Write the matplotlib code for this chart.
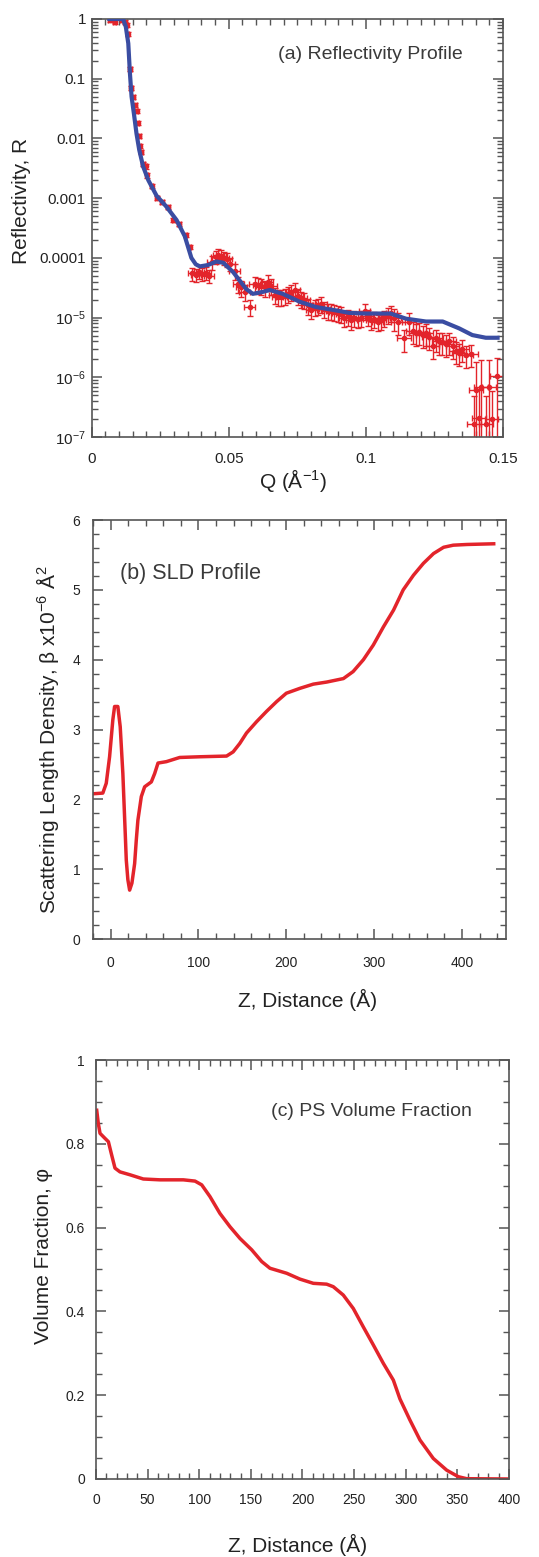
import matplotlib
matplotlib.use("Agg")
import matplotlib.pyplot as plt
from matplotlib.ticker import FixedLocator, FixedFormatter, MultipleLocator, LogLocator, NullFormatter
import numpy as np

plt.rcParams['font.family'] = ['Liberation Sans', 'DejaVu Sans']
plt.rcParams['mathtext.default'] = 'regular'

# (a) reflectivity data: Q, R
q = [0.0067, 0.0085, 0.0110, 0.0122, 0.0128, 0.0132, 0.0140, 0.0144, 0.0152, 0.0158,
     0.0164, 0.0168, 0.0174, 0.0176, 0.0182, 0.0188, 0.0197, 0.0201, 0.0219, 0.0239,
     0.0257, 0.0279, 0.0298, 0.0319, 0.0343, 0.0358,
     0.0368, 0.0380, 0.0392, 0.0404, 0.0416, 0.0428,
     0.0440, 0.0452, 0.0462, 0.0472, 0.0482, 0.0494, 0.0505,
     0.0522, 0.0534, 0.0546, 0.0558, 0.0576, 0.0595, 0.0607, 0.0619, 0.0631, 0.0643,
     0.0655, 0.0667, 0.0679, 0.0692, 0.0704, 0.0716, 0.0728, 0.0740, 0.0752, 0.0764,
     0.0776, 0.0788, 0.0801, 0.0813, 0.0825, 0.0837, 0.0849, 0.0861, 0.0873, 0.0885,
     0.0897, 0.0910, 0.0922, 0.0934, 0.0946, 0.0958, 0.0970, 0.0983, 0.0995, 0.1007,
     0.1019, 0.1031, 0.1043, 0.1055, 0.1067, 0.1079, 0.1092, 0.1104, 0.1116, 0.1140,
     0.1158, 0.1170, 0.1182, 0.1195, 0.1207, 0.1219, 0.1231, 0.1243, 0.1255, 0.1267,
     0.1279, 0.1291, 0.1303, 0.1316, 0.1328, 0.1340, 0.1352, 0.1364, 0.1383,
     0.1401, 0.1419, 0.1395, 0.1413, 0.1439, 0.1449, 0.1458, 0.1477]
r = [0.96, 0.90, 0.97, 0.90, 0.80, 0.56, 0.145, 0.070, 0.050, 0.037,
     0.029, 0.018, 0.011, 0.0076, 0.0059, 0.0037, 0.0034, 0.0024, 0.0016, 0.0010,
     0.00087, 0.00072, 0.00043, 0.00037, 0.00024, 0.000155,
     5.5e-5, 5.2e-5, 5.8e-5, 5.4e-5, 5.6e-5, 5.0e-5,
     8.5e-5, 1.05e-4, 1.12e-4, 1.08e-4, 1.0e-4, 9.5e-5, 8.0e-5,
     6.0e-5, 3.7e-5, 3.2e-5, 2.7e-5, 1.5e-5, 3.7e-5, 3.5e-5, 3.4e-5, 3.2e-5, 4.0e-5,
     3.4e-5, 2.4e-5, 2.2e-5, 2.2e-5, 2.3e-5, 2.5e-5, 2.7e-5, 2.9e-5, 2.3e-5, 2.1e-5,
     2.0e-5, 1.6e-5, 1.35e-5, 1.5e-5, 1.6e-5, 1.7e-5, 1.4e-5, 1.3e-5, 1.3e-5, 1.25e-5,
     1.2e-5, 1.15e-5, 1.0e-5, 1.05e-5, 9.0e-6, 1.0e-5, 9.5e-6, 1.0e-5, 1.3e-5, 1.05e-5,
     9.0e-6, 9.5e-6, 8.5e-6, 9.0e-6, 1.0e-5, 1.1e-5, 1.2e-5, 1.0e-5, 8.5e-6, 4.5e-6,
     8.5e-6, 6.0e-6, 5.5e-6, 5.8e-6, 5.2e-6, 5.5e-6, 4.8e-6, 3.4e-6, 4.5e-6, 4.0e-6,
     3.9e-6, 3.6e-6, 4.0e-6, 3.4e-6, 2.8e-6, 2.6e-6, 3.0e-6, 2.4e-6, 2.5e-6,
     6.1e-7, 7.0e-7, 1.65e-7, 2.1e-7, 1.65e-7, 7.0e-7, 2.0e-7, 1.05e-6]
# error bar sizes by Q range (dQ, fractional dR), tail points listed separately
err_edges = [0.036, 0.051, 0.11, 1.0]
err_dq = [0.0006, 0.0018, 0.002, 0.0025]
err_rel = [0.08, 0.25, 0.3, 0.4]
tail_rel = [2.0, 1.8, 2.0, 2.0, 2.0, 1.8, 2.0, 1.0]

# (a) fitted reflectivity curve
fit_q = [0.0065, 0.0115, 0.0125, 0.0134, 0.0140, 0.0146, 0.0155, 0.0164, 0.0174, 0.0188,
         0.0207, 0.0237, 0.0273, 0.0310, 0.0340, 0.0364, 0.0380, 0.0395, 0.0425, 0.0455,
         0.0480, 0.0516, 0.0564, 0.0588, 0.0625, 0.0650, 0.0697, 0.0758, 0.0819, 0.0879,
         0.0940, 0.1000, 0.1090, 0.1146, 0.1219, 0.1280, 0.1340, 0.1388, 0.1437, 0.1480]
fit_r = [1.0, 1.0, 0.74, 0.39, 0.123, 0.05, 0.025, 0.012, 0.0064, 0.0034,
         0.002, 0.0011, 0.00072, 0.00043, 0.00023, 0.0001, 7.8e-5, 7.2e-5, 7.6e-5, 8.7e-5,
         8.3e-5, 5.8e-5, 3.0e-5, 2.5e-5, 2.7e-5, 2.9e-5, 2.5e-5, 1.85e-5, 1.5e-5, 1.35e-5,
         1.2e-5, 1.17e-5, 1.17e-5, 9.6e-6, 8.6e-6, 8.6e-6, 6.6e-6, 5.1e-6, 4.6e-6, 4.6e-6]

# (b) SLD profile
z_sld = [-20, -8.8, -4.9, -1.1, 2.6, 4.6, 8.3, 11, 14, 17, 17.9, 19.7, 21.7, 24.3, 27.4,
         29.3, 31.1, 35, 38.8, 46.4, 50.2, 54, 63.5, 78.7, 101.5, 132, 139.5, 147, 154.7,
         166, 177.5, 189, 200, 215.5, 230.7, 246, 265, 276, 287.7, 299, 310.5, 322, 333,
         344.7, 356, 367.5, 379, 390, 405.6, 436]
sld = [2.08, 2.09, 2.23, 2.61, 3.14, 3.33, 3.33, 3.04, 2.37, 1.42, 1.13, 0.85, 0.70, 0.80,
       1.08, 1.42, 1.70, 2.04, 2.18, 2.25, 2.37, 2.52, 2.54, 2.60, 2.61, 2.62, 2.68, 2.80,
       2.95, 3.11, 3.26, 3.40, 3.52, 3.59, 3.65, 3.68, 3.73, 3.83, 4.00, 4.21, 4.47, 4.71,
       5.00, 5.21, 5.38, 5.52, 5.61, 5.64, 5.65, 5.66]

# (c) PS volume fraction
z_phi = [0.7, 2.2, 3.9, 8.7, 12, 15.2, 18.4, 23.2, 33, 45.8, 62, 84.6, 95.9, 102.4, 110.4,
         120, 129.8, 139.5, 150.8, 160.5, 168.5, 184.7, 197.6, 210.5, 223.4, 229.8, 239.5,
         249.2, 258.9, 268.6, 278.3, 288, 294.4, 304, 313.8, 326.7, 339.7, 350.9, 359, 399.3]
phi = [0.88, 0.849, 0.825, 0.813, 0.805, 0.773, 0.742, 0.733, 0.726, 0.716, 0.714, 0.714,
       0.711, 0.702, 0.674, 0.634, 0.602, 0.574, 0.547, 0.519, 0.503, 0.491, 0.477, 0.467,
       0.465, 0.459, 0.439, 0.407, 0.363, 0.320, 0.276, 0.236, 0.191, 0.141, 0.093, 0.049,
       0.021, 0.0055, 0.0007, 0.0]

red = '#e3242b'
blue = '#3a4da2'
axcol = '#555555'
txtcol = '#222222'

fig = plt.figure(figsize=(5.39, 15.57), dpi=100)
ax1 = fig.add_axes([0.1698, 0.7193, 0.7635, 0.2685])
ax2 = fig.add_axes([0.1725, 0.3969, 0.7663, 0.2691])
ax3 = fig.add_axes([0.1781, 0.0501, 0.7662, 0.2691])


def style(ax, size=10):
    for s in ax.spines.values():
        s.set_color(axcol)
        s.set_linewidth(1.2)
    ax.tick_params(which='both', direction='in', top=True, right=True, color=axcol,
                   labelcolor=txtcol, labelsize=size)
    ax.tick_params(which='major', length=7, width=1.1)
    ax.tick_params(which='minor', length=4, width=1.0)


# (a) Reflectivity
q = np.array(q)
r = np.array(r)
bin_idx = np.searchsorted(err_edges, q)
dq = np.array(err_dq)[bin_idx]
rel = np.array(err_rel)[bin_idx]
rel[-len(tail_rel):] = tail_rel
err = rel * r
ax1.errorbar(q, r, xerr=dq, yerr=err, fmt='o', ms=3, color=red, ecolor=red,
             elinewidth=1.0, capsize=2, capthick=1.0, zorder=2)
ax1.plot(fit_q, fit_r, color=blue, lw=3, zorder=3)
ax1.set_yscale('log')
ax1.set_xlim(0, 0.15)
ax1.set_ylim(1e-7, 1)
style(ax1, 11)
ax1.xaxis.set_major_locator(FixedLocator([0, 0.05, 0.1, 0.15]))
ax1.xaxis.set_major_formatter(FixedFormatter(['0', '0.05', '0.1', '0.15']))
ax1.xaxis.set_minor_locator(MultipleLocator(0.005))
ax1.yaxis.set_major_locator(FixedLocator([1, 0.1, 0.01, 0.001, 1e-4, 1e-5, 1e-6, 1e-7]))
ax1.yaxis.set_major_formatter(FixedFormatter(['1', '0.1', '0.01', '0.001', '0.0001',
                                              '$10^{-5}$', '$10^{-6}$', '$10^{-7}$']))
ax1.yaxis.set_minor_locator(LogLocator(base=10, subs=np.arange(2, 10), numticks=20))
ax1.yaxis.set_minor_formatter(NullFormatter())
ax1.tick_params(axis='x', pad=11)
ax1.tick_params(axis='y', pad=4)
ax1.set_ylabel('Reflectivity, R', fontsize=15, color=txtcol)
ax1.set_xlabel('Q (Å$^{-1}$)', fontsize=15, color=txtcol)
ax1.yaxis.set_label_coords(-0.169, 0.565)
ax1.xaxis.set_label_coords(0.49, -0.103)
ax1.yaxis.label.set_va('center')
ax1.xaxis.label.set_va('center')
ax1.text(0.903, 0.914, '(a) Reflectivity Profile', transform=ax1.transAxes,
         ha='right', va='center', fontsize=14, color='#3a3a3a')

# (b) SLD profile
ax2.plot(z_sld, sld, color=red, lw=2.5)
ax2.set_xlim(-20, 450)
ax2.set_ylim(0, 6)
style(ax2)
ax2.xaxis.set_major_locator(MultipleLocator(100))
ax2.xaxis.set_minor_locator(MultipleLocator(20))
ax2.yaxis.set_major_locator(MultipleLocator(1))
ax2.yaxis.set_minor_locator(MultipleLocator(0.2))
ax2.tick_params(axis='x', pad=12)
ax2.tick_params(axis='y', pad=9)
ax2.set_ylabel('Scattering Length Density, β x10$^{-6}$ Å$^{2}$', fontsize=15, color=txtcol)
ax2.set_xlabel('Z, Distance (Å)', fontsize=15, color=txtcol)
ax2.yaxis.set_label_coords(-0.109, 0.475)
ax2.xaxis.set_label_coords(0.52, -0.146)
ax2.yaxis.label.set_va('center')
ax2.xaxis.label.set_va('center')
ax2.text(0.065, 0.873, '(b) SLD Profile', transform=ax2.transAxes,
         ha='left', va='center', fontsize=15.5, color='#3a3a3a')

# (c) PS volume fraction
ax3.plot(z_phi, phi, color=red, lw=2.5)
ax3.set_xlim(0, 400)
ax3.set_ylim(0, 1)
style(ax3)
ax3.xaxis.set_major_locator(MultipleLocator(50))
ax3.xaxis.set_minor_locator(MultipleLocator(10))
ax3.yaxis.set_major_locator(FixedLocator([0, 0.2, 0.4, 0.6, 0.8, 1]))
ax3.yaxis.set_major_formatter(FixedFormatter(['0', '0.2', '0.4', '0.6', '0.8', '1']))
ax3.yaxis.set_minor_locator(MultipleLocator(0.05))
ax3.tick_params(axis='x', pad=10)
ax3.tick_params(axis='y', pad=8)
ax3.set_ylabel('Volume Fraction, φ', fontsize=15, color=txtcol)
ax3.set_xlabel('Z, Distance (Å)', fontsize=15, color=txtcol)
ax3.yaxis.set_label_coords(-0.126, 0.532)
ax3.xaxis.set_label_coords(0.487, -0.158)
ax3.yaxis.label.set_va('center')
ax3.xaxis.label.set_va('center')
ax3.text(0.910, 0.877, '(c) PS Volume Fraction', transform=ax3.transAxes,
         ha='right', va='center', fontsize=14, color='#3a3a3a')

fig.savefig('out.png', dpi=100)
